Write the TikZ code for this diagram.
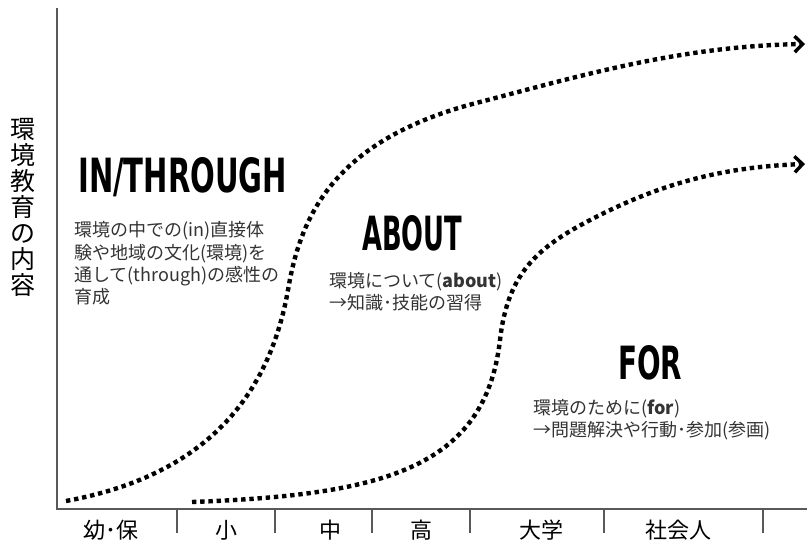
\documentclass[tikz,border=0pt]{standalone}
\usepackage{fontspec}
\setmainfont{Noto Sans CJK JP}
\newfontfamily\jp{Noto Sans CJK JP}
\newfontfamily\headfont{DejaVu Sans}
\usetikzlibrary{arrows.meta}
\definecolor{axisgray}{gray}{0.35}
\definecolor{txtgray}{gray}{0.2}
\begin{document}
\begin{tikzpicture}[x=1bp,y=-1bp,
  axisline/.style={draw=axisgray,line width=1.6bp},
  tickline/.style={draw=axisgray,line width=1.2bp},
  dotcurve/.style={line width=4.4bp,dash pattern=on 4.4bp off 3.8bp,
    -{Straight Barb[length=8bp,width=16bp,line width=3.4bp]}},
  body/.style={anchor=base west,inner sep=0,text=txtgray,font=\jp\fontsize{18bp}{22bp}\selectfont},
  ylab/.style={anchor=base,inner sep=0,text=black,font=\jp\fontsize{25bp}{26bp}\selectfont},
  xlab/.style={anchor=base,inner sep=0,text=black,font=\jp\fontsize{22bp}{24bp}\selectfont},
  head/.style={anchor=north west,inner sep=0}]
\useasboundingbox (0,0) rectangle (807,542);
% axes
\coordinate (origin) at (57,509);
\coordinate (ytop) at (57,8);
\coordinate (xend) at (807,509);
\draw[axisline] (ytop) -- (origin) -- (xend);
\foreach \t in {177,275,372,470,604,763}{
  \draw[tickline] (\t,510) -- (\t,533);
}
% x labels
\node[xlab] (k1) at (111,538) {幼･保};
\node[xlab] (k2) at (226,538) {小};
\node[xlab] (k3) at (330,538) {中};
\node[xlab] (k4) at (421,538) {高};
\node[xlab] (k5) at (541,538) {大学};
\node[xlab] (k6) at (678,538) {社会人};
% y label
\foreach \c [count=\i from 0] in {環,境,教,育,の,内,容}{
  \node[ylab] (y\i) at (23,139+26*\i) {\c};
}
% curves
\coordinate (c1s) at (66,501);
\coordinate (c1e) at (805,44);
\coordinate (c2s) at (192,502);
\coordinate (c2e) at (805,164);
\draw[dotcurve] (c1s) .. controls (180,480) and (265,420) .. (288,290)
  .. controls (300,220) and (330,140) .. (480,102)
  .. controls (580,76) and (680,46) .. (c1e);
\draw[dotcurve] (c2s) .. controls (380,495) and (485,470) .. (500,340)
  .. controls (508,270) and (540,245) .. (600,215)
  .. controls (660,185) and (720,167) .. (c2e);
% headings
\node[head] (hin) at (78,157) {\resizebox{209bp}{35bp}{\headfont\bfseries IN/THROUGH}};
\node[head] (hab) at (362,215) {\resizebox{100bp}{35bp}{\headfont\bfseries ABOUT}};
\node[head] (hfor) at (618,345) {\resizebox{64bp}{34bp}{\headfont\bfseries FOR}};
% IN/THROUGH text
\node[body] (t1) at (74,237) {環境の中での(in)直接体};
\node[body] (t2) at (74,260) {験や地域の文化(環境)を};
\node[body] (t3) at (74,282) {通して(through)の感性の};
\node[body] (t4) at (74,304) {育成};
% ABOUT text
\node[body] (a1) at (329,288) {環境について(\textbf{about})};
\node[body] (a2) at (329,310) {→知識･技能の習得};
% FOR text
\node[body] (f1) at (533,414) {環境のために(\textbf{for})};
\node[body] (f2) at (533,436) {→問題解決や行動･参加(参画)};
\end{tikzpicture}
\end{document}
